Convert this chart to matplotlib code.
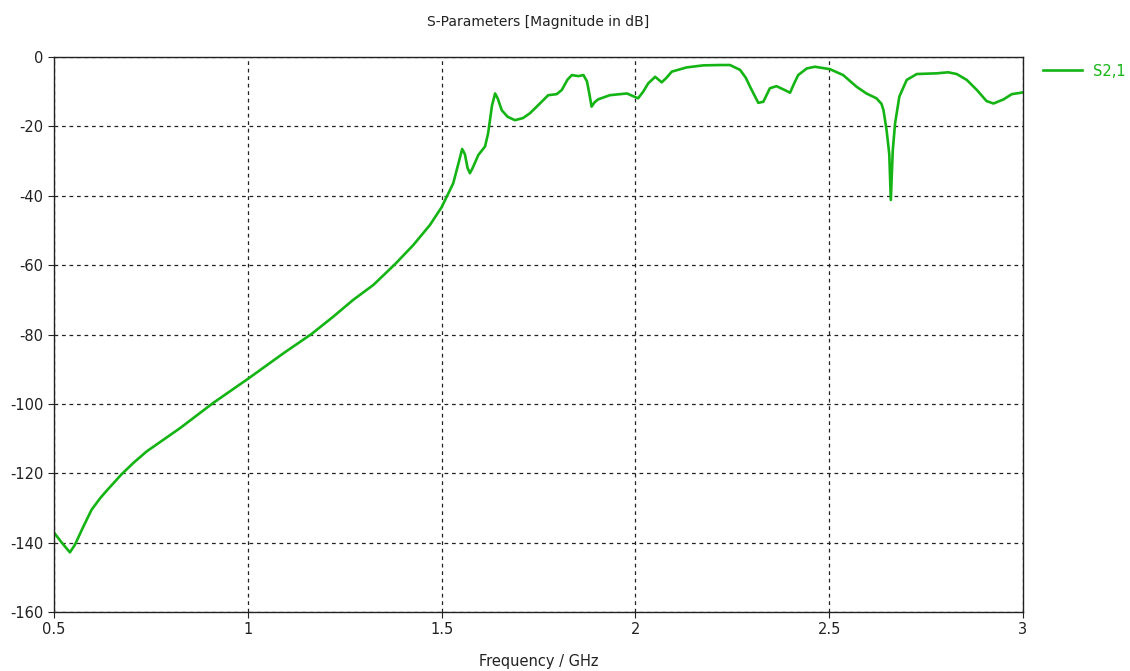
import matplotlib
matplotlib.use('Agg')
import matplotlib.pyplot as plt

plt.rcParams['axes.unicode_minus'] = False

# Frequenz (GHz) und S2,1 (dB)
freq_ghz = [
    0.500, 0.520, 0.541, 0.554, 0.576, 0.597, 0.619, 0.636, 0.675, 0.705, 0.739, 0.825,
    0.911, 1.000, 1.092, 1.165, 1.221, 1.272, 1.324, 1.380, 1.427, 1.470,
    1.500, 1.530, 1.545, 1.553, 1.560, 1.567, 1.573, 1.580, 1.595, 1.612,
    1.620, 1.630, 1.638, 1.645, 1.655, 1.670, 1.689, 1.710, 1.728, 1.750,
    1.775, 1.797, 1.810, 1.825, 1.836, 1.853, 1.866, 1.875, 1.881, 1.887,
    1.895, 1.904, 1.934, 1.978, 2.007, 2.020, 2.033, 2.051, 2.068, 2.080,
    2.094, 2.132, 2.175, 2.218, 2.244, 2.270, 2.285, 2.296, 2.317, 2.330,
    2.347, 2.364, 2.385, 2.399, 2.410, 2.420, 2.442, 2.463, 2.502, 2.536,
    2.571, 2.596, 2.622, 2.635, 2.640, 2.648, 2.655, 2.659, 2.664, 2.670,
    2.681, 2.700, 2.726, 2.777, 2.807, 2.829, 2.855, 2.881, 2.906, 2.924,
    2.950, 2.971, 3.000,
]
s21_db = [
    -137.1, -140.0, -142.8, -140.6, -135.3, -130.5, -127.2, -125.0, -120.2, -117.0, -113.7, -107.0,
    -99.7, -92.8, -85.4, -79.8, -74.8, -70.0, -65.7, -59.7, -54.2, -48.4,
    -43.3, -36.4, -30.0, -26.5, -28.0, -32.0, -33.5, -32.0, -28.2, -25.8,
    -22.0, -14.0, -10.5, -12.0, -15.3, -17.2, -18.2, -17.6, -16.2, -13.8,
    -11.0, -10.7, -9.5, -6.5, -5.2, -5.5, -5.2, -7.0, -10.5, -14.3,
    -13.0, -12.2, -11.0, -10.5, -11.9, -10.0, -7.6, -5.7, -7.3, -6.0,
    -4.2, -3.0, -2.4, -2.3, -2.3, -3.7, -6.0, -8.6, -13.2, -12.9,
    -9.0, -8.4, -9.5, -10.3, -7.5, -5.2, -3.3, -2.8, -3.5, -5.2,
    -8.6, -10.5, -11.9, -13.5, -15.3, -21.0, -28.0, -41.2, -27.0, -19.1,
    -11.4, -6.6, -4.9, -4.7, -4.4, -4.9, -6.6, -9.5, -12.7, -13.4,
    -12.2, -10.7, -10.2,
]

x_ticks = [0.5, 1, 1.5, 2, 2.5, 3]
x_tick_labels = ['0.5', '1', '1.5', '2', '2.5', '3']
y_ticks = [0, -20, -40, -60, -80, -100, -120, -140, -160]

green = '#14b414'

fig = plt.figure(figsize=(11.3, 6.71), dpi=100)
ax = fig.add_axes([0.0478, 0.0879, 0.8575, 0.8271])

ax.plot(freq_ghz, s21_db, color=green, linewidth=1.9, label='S2,1')

ax.set_xlim(0.5, 3)
ax.set_ylim(-160, 0)
ax.set_xticks(x_ticks)
ax.set_xticklabels(x_tick_labels)
ax.set_yticks(y_ticks)
ax.tick_params(direction='out', length=4, labelsize=10.5, colors='#222222')

ax.grid(True, color='#222222', linestyle=(0, (3, 3)), linewidth=0.9)
for sp in ax.spines.values():
    sp.set_color('#222222')
    sp.set_linewidth(1.0)

ax.set_title('S-Parameters [Magnitude in dB]', fontsize=10, color='#222222', pad=22)
ax.set_xlabel('Frequency / GHz', fontsize=10.5, color='#222222', labelpad=12)

# Legende rechts oben, ausserhalb der Achsen
leg = fig.legend(loc='center left', bbox_to_anchor=(1043 / 1130, 1 - 71 / 671),
                 bbox_transform=fig.transFigure, frameon=False, borderpad=0,
                 borderaxespad=0, handlelength=2.7, handletextpad=0.7, fontsize=10.5)
for t in leg.get_texts():
    t.set_color(green)

fig.savefig('out.png', dpi=100)
